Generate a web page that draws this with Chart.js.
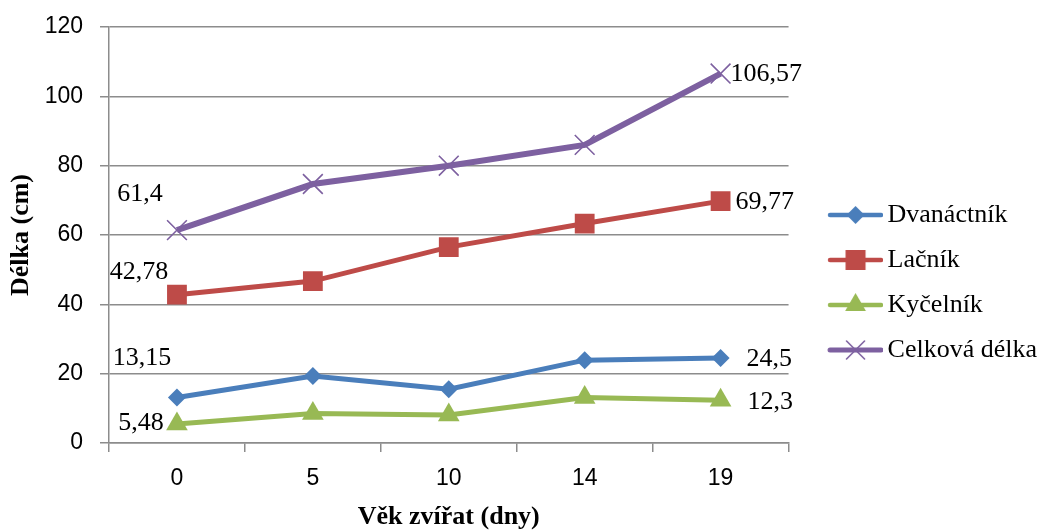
<!DOCTYPE html>
<html>
<head>
<meta charset="utf-8">
<script src="https://cdn.jsdelivr.net/npm/chart.js@4.4.1/dist/chart.umd.min.js"></script>
<style>
  html, body { margin: 0; padding: 0; background: #fff; }
  #wrap { width: 1043px; height: 530px; position: relative; }
</style>
</head>
<body>
<div id="wrap"><canvas id="c"></canvas></div>
<script>
// ---- data ----
const categories = ['0', '5', '10', '14', '19'];
const dvanactnik = [13.15, 19.3, 15.5, 23.9, 24.5];
const lacnik = [42.78, 46.7, 56.5, 63.3, 69.77];
const kycelnik = [5.48, 8.5, 8.1, 13.1, 12.3];
const celkova = [61.4, 74.7, 80.0, 86.0, 106.57];
const seriesNames = ['Dvanáctník', 'Lačník', 'Kyčelník', 'Celková délka'];
const yTicks = [0, 20, 40, 60, 80, 100, 120];

// ---- styles ----
const colors = ['#4a7ebb', '#be4b48', '#98b954', '#7d60a0'];
const serif = '"Liberation Serif", "Times New Roman", serif';
const sans = '"Liberation Sans", Arial, sans-serif';

// label placement (relative offsets from the point) for first and last point
const labelPlacement = [
  { first: { dx: -35, dy: -39 }, last: { dx: 26, dy: 1 } },
  { first: { dx: -38, dy: -23 }, last: { dx: 15, dy: 1 } },
  { first: { dx: -36, dy: -1 }, last: { dx: 27, dy: 2 } },
  { first: { dx: -37, dy: -36 }, last: { dx: 10, dy: 1 } }
];

function fmt(v) { return String(v).replace('.', ','); }

// legend images: line + marker
function legendImage(idx) {
  const w = 84, h = 24;
  const cv = document.createElement('canvas');
  cv.width = w; cv.height = h;
  const ctx = cv.getContext('2d');
  const x0 = w - 55, x1 = w, cy = h / 2, cx = (x0 + x1) / 2;
  ctx.strokeStyle = colors[idx];
  ctx.fillStyle = colors[idx];
  ctx.lineCap = 'round';
  ctx.lineWidth = idx === 3 ? 5 : 4.5;
  ctx.beginPath(); ctx.moveTo(x0 + 2, cy); ctx.lineTo(x1 - 2, cy); ctx.stroke();
  if (idx === 0) {
    const r = 9;
    ctx.beginPath(); ctx.moveTo(cx, cy - r); ctx.lineTo(cx + r, cy); ctx.lineTo(cx, cy + r); ctx.lineTo(cx - r, cy); ctx.closePath(); ctx.fill();
  } else if (idx === 1) {
    const s = 10;
    ctx.fillRect(cx - s, cy - s, 2 * s, 2 * s);
  } else if (idx === 2) {
    const r = 12;
    ctx.beginPath(); ctx.moveTo(cx, cy - r); ctx.lineTo(cx + r * 0.866, cy + r * 0.5); ctx.lineTo(cx - r * 0.866, cy + r * 0.5); ctx.closePath(); ctx.fill();
  } else {
    const r = 9;
    ctx.lineWidth = 1.6;
    ctx.beginPath(); ctx.moveTo(cx - r, cy - r); ctx.lineTo(cx + r, cy + r); ctx.moveTo(cx + r, cy - r); ctx.lineTo(cx - r, cy + r); ctx.stroke();
  }
  return cv;
}

const labelPlugin = {
  id: 'endLabels',
  beforeLayout(chart) {
    const lg = chart.legend;
    if (lg && !lg._trimmed) {
      const origFit = lg.fit.bind(lg);
      lg.fit = function () { origFit(); this.width -= 4; };
      lg._trimmed = true;
    }
  },
  afterDatasetsDraw(chart) {
    const ctx = chart.ctx;
    ctx.save();
    ctx.font = '26px ' + serif;
    ctx.fillStyle = '#000';
    ctx.textBaseline = 'middle';
    chart.data.datasets.forEach((ds, i) => {
      const meta = chart.getDatasetMeta(i);
      const n = ds.data.length;
      const p0 = meta.data[0], pN = meta.data[n - 1];
      const pl = labelPlacement[i];
      ctx.textAlign = 'center';
      ctx.fillText(fmt(ds.data[0]), p0.x + pl.first.dx, p0.y + pl.first.dy);
      ctx.textAlign = 'left';
      ctx.fillText(fmt(ds.data[n - 1]), pN.x + pl.last.dx, pN.y + pl.last.dy);
    });
    ctx.restore();
  }
};

const seriesData = [dvanactnik, lacnik, kycelnik, celkova];
const pointStyles = ['rectRot', 'rect', 'triangle', 'crossRot'];
const pointRadii = [9, 14, 12.5, 14];
const lineWidths = [5, 5, 5, 6];

const datasets = seriesData.map((d, i) => ({
  label: seriesNames[i],
  data: d,
  borderColor: colors[i],
  backgroundColor: colors[i],
  borderWidth: lineWidths[i],
  pointStyle: pointStyles[i],
  pointRadius: pointRadii[i],
  pointBorderWidth: i === 3 ? 1.6 : 0,
  pointBackgroundColor: colors[i],
  pointBorderColor: colors[i],
  tension: 0,
  fill: false
}));

const legendImgs = seriesNames.map((_, i) => legendImage(i));

new Chart(document.getElementById('c'), {
  type: 'line',
  data: { labels: categories, datasets },
  plugins: [labelPlugin],
  options: {
    responsive: true,
    maintainAspectRatio: false,
    animation: false,
    layout: { padding: { left: 0, right: 0, top: 27, bottom: 0 } },
    plugins: {
      tooltip: { enabled: false },
      legend: {
        position: 'right',
        align: 'center',
        title: { display: true, text: '', font: { size: 1, lineHeight: 1 }, padding: { top: 7, bottom: 0 } },
        labels: {
          usePointStyle: true,
          pointStyleWidth: 67,
          padding: 19,
          color: '#000',
          font: { family: serif, size: 26 },
          generateLabels(chart) {
            return chart.data.datasets.map((ds, i) => ({
              text: ds.label,
              pointStyle: legendImgs[i],
              fillStyle: colors[i],
              strokeStyle: colors[i],
              lineWidth: 0,
              hidden: false,
              datasetIndex: i,
              fontColor: '#000'
            }));
          }
        }
      }
    },
    scales: {
      x: {
        offset: true,
        afterFit(scale) { scale.height = 87; scale.paddingLeft = 0; scale.paddingRight = 0; },
        grid: {
          offset: true,
          drawOnChartArea: false,
          drawTicks: true,
          tickLength: 9,
          color: '#8c8c8c',
          lineWidth: 1.5
        },
        border: { color: '#8c8c8c', width: 1.5 },
        ticks: { color: '#000', font: { family: sans, size: 23 }, padding: 13 },
        title: {
          display: true,
          text: 'Věk zvířat (dny)',
          color: '#000',
          font: { family: serif, size: 26, weight: 'bold', lineHeight: 1 },
          padding: { top: 0, bottom: 0 }
        }
      },
      y: {
        min: 0,
        max: 120,
        afterFit(scale) { scale.width = 109; scale.paddingTop = 0; scale.paddingBottom = 0; },
        afterBuildTicks(scale) { scale.ticks = yTicks.map(v => ({ value: v })); },
        grid: {
          color: '#8c8c8c',
          lineWidth: 1.5,
          tickLength: 9
        },
        border: { color: '#8c8c8c', width: 1.5 },
        ticks: { color: '#000', font: { family: sans, size: 23 }, padding: 17 },
        title: {
          display: true,
          text: 'Délka (cm)',
          color: '#000',
          font: { family: serif, size: 26, weight: 'bold' },
          padding: { top: 6, bottom: 0 }
        }
      }
    }
  }
});
</script>
</body>
</html>
